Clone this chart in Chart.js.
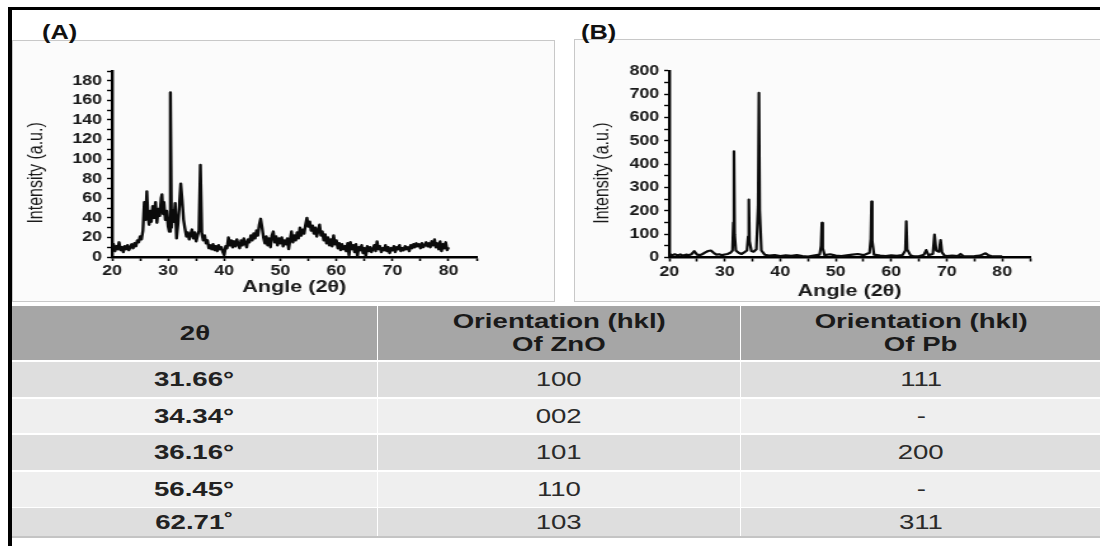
<!DOCTYPE html>
<html><head><meta charset="utf-8">
<script src="https://cdn.jsdelivr.net/npm/chart.js@4/dist/chart.umd.min.js"></script>
<style>
html,body{margin:0;padding:0;background:#fff;}
body{width:1100px;height:546px;position:relative;overflow:hidden;font-family:"Liberation Sans",Arial,sans-serif;}
.frameTop{position:absolute;left:8px;top:7px;width:1092px;height:3px;background:#000;}
.frameLeft{position:absolute;left:8px;top:7px;width:4px;height:539px;background:#000;}
.panel{position:absolute;border:1px solid #c8c8c8;background:#fbfbfb;box-sizing:border-box;}
.plabel{position:absolute;font-weight:bold;font-size:20px;line-height:20px;color:#111;transform:scaleX(1.27);transform-origin:0 0;}
.cwrap{position:absolute;transform:scaleX(1.27);transform-origin:0 0;}
.cell{position:absolute;display:flex;align-items:center;justify-content:center;flex-direction:column;}
.cell span{display:inline-block;transform:scaleX(1.38);font-size:20px;line-height:23px;color:#2a2a2a;white-space:nowrap;}
.hdr{background:#a6a6a6;}
.hdr span{font-weight:bold;color:#1a1a1a;}
.odd{background:#dedede;}
.even{background:#efefef;}
.b span{font-weight:bold;color:#222;}
</style></head>
<body>
<div class="frameTop"></div>
<div class="frameLeft"></div>
<div class="panel" style="left:12px;top:40px;width:543px;height:262px;"></div>
<div class="panel" style="left:574px;top:39px;width:530px;height:263px;"></div>
<div class="plabel" style="left:42px;top:22px;">(A)</div>
<div class="plabel" style="left:581px;top:22px;">(B)</div>
<div class="cwrap" style="left:13px;top:41px;"><canvas id="cA" width="425" height="260"></canvas></div>
<div class="cwrap" style="left:574px;top:40px;"><canvas id="cB" width="414" height="262"></canvas></div>
<div id="table"></div>
<div style="position:absolute;left:12px;top:536px;width:1088px;height:2px;background:#c4c4c4;"></div>
<script>
// ---------- Data: panel (A) ----------
const angleA = [
20.00,20.25,20.50,20.75,21.00,21.25,21.50,21.75,22.00,22.25,22.50,22.75,23.00,23.25,23.50,23.75,
24.00,24.25,24.50,24.75,25.00,25.25,25.50,25.75,26.00,26.20,26.40,26.60,26.80,27.00,27.25,27.50,27.75,
28.00,28.25,28.50,28.75,28.90,29.10,29.25,29.50,29.75,30.00,30.20,30.40,30.60,30.80,31.00,31.25,31.50,31.75,
32.00,32.25,32.50,32.75,33.00,33.25,33.50,33.75,34.00,34.25,34.50,34.75,35.00,35.25,35.50,35.75,36.00,
36.25,36.50,36.75,37.00,37.25,37.50,37.75,38.00,38.25,38.50,38.75,39.00,39.25,39.50,39.75,
40.00,40.25,40.50,40.75,41.00,41.25,41.50,41.75,42.00,42.25,42.50,42.75,43.00,43.25,43.50,43.75,
44.00,44.25,44.50,44.75,45.00,45.25,45.50,45.75,46.00,46.25,46.50,46.75,47.00,47.25,47.50,47.75,
48.00,48.25,48.50,48.75,49.00,49.25,49.50,49.75,50.00,50.25,50.50,50.75,51.00,51.25,51.50,51.75,
52.00,52.25,52.50,52.75,53.00,53.25,53.50,53.75,54.00,54.25,54.50,54.75,55.00,55.25,55.50,55.75,
56.00,56.25,56.50,56.75,57.00,57.25,57.50,57.75,58.00,58.25,58.50,58.75,59.00,59.25,59.50,59.75,
60.00,60.25,60.50,60.75,61.00,61.25,61.50,61.75,62.00,62.25,62.50,62.75,63.00,63.25,63.50,63.75,
64.00,64.25,64.50,64.75,65.00,65.25,65.50,65.75,66.00,66.25,66.50,66.75,67.00,67.25,67.50,67.75,
68.00,68.25,68.50,68.75,69.00,69.25,69.50,69.75,70.00,70.25,70.50,70.75,71.00,71.25,71.50,71.75,
72.00,72.25,72.50,72.75,73.00,73.25,73.50,73.75,74.00,74.25,74.50,74.75,75.00,75.25,75.50,75.75,
76.00,76.25,76.50,76.75,77.00,77.25,77.50,77.75,78.00,78.25,78.50,78.75,79.00,79.25,79.50,79.75,80.00
];
const intensityA = [
9,13,6,11,8,15,7,10,5,11,8,12,7,10,13,9,
14,11,17,15,21,18,27,56,38,67,42,33,47,36,52,40,56,
35,49,42,60,64,44,56,38,47,31,26,168,30,48,36,55,19,34,
52,75,58,38,29,21,25,18,23,28,19,25,16,22,27,94,24,
17,22,14,17,9,12,8,13,7,11,6,12,8,10,5,
2,11,9,20,12,17,10,16,11,18,13,9,17,12,19,14,
10,18,15,22,17,24,19,27,22,33,39,30,20,14,21,12,
19,10,22,26,15,21,12,19,14,20,11,17,13,19,8,18,
26,15,22,17,25,19,30,22,28,24,33,40,31,36,27,32,
24,30,21,27,33,22,26,17,23,14,20,12,18,11,22,13,
17,9,14,7,13,8,11,6,14,2,15,8,12,5,13,1,
10,7,12,4,9,1,11,6,10,5,8,12,6,16,8,11,
5,9,7,12,6,10,4,9,7,11,5,10,8,12,6,9,
7,11,8,10,6,12,9,13,10,14,11,13,9,14,10,12,
15,11,14,10,16,12,18,10,14,8,16,6,13,9,15,7,10
];
// ---------- Data: panel (B) ----------
const angleB = [
20,20.5,21,21.5,22,22.5,23,23.5,24,24.5,25,25.5,26,26.5,27,27.5,28,28.5,29,29.5,30,30.5,31,31.4,31.55,31.66,31.78,32.0,32.5,
33,33.5,34.0,34.22,34.34,34.46,34.8,35.2,35.7,36.02,36.16,36.3,36.6,37.2,38,39,40,41,42,43,44,45,46,47.1,47.35,47.5,47.65,48.0,
49,50,51,52,53,54,55,56.1,56.32,56.45,56.58,56.9,58,59,60,61,62,62.55,62.71,62.87,63.5,64,65,65.9,66.3,66.7,67.5,67.8,68.1,68.6,
68.9,69.15,69.6,70,71,72,72.5,73,74,75,76,77,77.5,78,79,80
];
const intensityB = [
15,10,14,9,13,8,12,10,14,27,12,10,15,22,28,30,20,12,14,10,13,15,20,30,150,455,100,30,20,
15,22,30,90,248,70,28,25,35,220,705,200,30,12,8,10,6,9,7,10,6,4,8,12,50,148,40,10,
14,8,6,9,12,15,10,20,80,240,70,12,8,6,9,7,10,30,155,35,8,6,5,12,32,10,15,98,30,25,
75,22,8,6,8,6,15,6,5,6,8,18,10,6,5,5
];
// ---------- Data: table ----------
const tableHeaders = [["2θ"], ["Orientation (hkl)", "Of ZnO"], ["Orientation (hkl)", "Of Pb"]];
const twoTheta = ["31.66°", "34.34°", "36.16°", "56.45°", "62.71˚"];
const hklZnO = ["100", "002", "101", "110", "103"];
const hklPb = ["111", "-", "200", "-", "311"];

// ---------- Charts ----------
const FONT = '"Liberation Sans", Arial, sans-serif';
const Y_TITLE = 'Intensity (a.u.)\u00a0\u00a0\u00a0\u00a0';
function pairs(xs, ys){ return xs.map((x,i)=>({x:x, y:ys[i]})); }

function makeChart(id, xs, ys, cfg){
  return new Chart(document.getElementById(id), {
    type: 'line',
    data: { datasets: [{ data: pairs(xs, ys), borderColor: '#0b0b0b', borderWidth: cfg.lw,
      pointRadius: 0, tension: 0, borderJoinStyle: 'round', fill: false }] },
    options: {
      responsive: false, animation: false,
      layout: { padding: { left: 0, right: cfg.padR, top: cfg.padT, bottom: 0 } },
      plugins: { legend: { display: false }, tooltip: { enabled: false } },
      scales: {
        x: {
          type: 'linear', min: 20, max: 85,
          border: { display: true, color: '#000', width: 2.4 },
          grid: { drawOnChartArea: false, drawTicks: true, tickLength: 4, tickColor: '#000', tickWidth: 1.6 },
          ticks: { stepSize: 5, autoSkip: false, maxRotation: 0, padding: 2, color: '#1a1a1a',
            font: { family: FONT, weight: 'bold', size: 14 },
            callback: v => (v % 10 === 0 && v <= 80) ? String(v) : '' },
          title: { display: true, text: 'Angle (2θ)', color: '#1a1a1a',
            font: { family: FONT, weight: 'bold', size: 17 }, padding: { top: 0, bottom: cfg.xtPad } },
          afterFit: s => { s.height = cfg.xH; }
        },
        y: {
          type: 'linear', min: 0, max: cfg.ymax,
          border: { display: true, color: '#000', width: 2.4 },
          grid: { drawOnChartArea: false, drawTicks: true, tickLength: 4, tickColor: '#000', tickWidth: 1.4 },
          ticks: { stepSize: cfg.ystep, autoSkip: false, padding: 4, color: '#1a1a1a',
            font: { family: FONT, weight: 'bold', size: 14 },
            callback: v => (v % cfg.ylab === 0) ? String(v) : '' },
          title: { display: true, text: Y_TITLE, color: '#1a1a1a',
            font: { family: FONT, weight: 'normal', size: 16 }, padding: { top: cfg.ytPad, bottom: 0 } },
          afterFit: s => { s.width = cfg.yW; }
        }
      }
    }
  });
}

makeChart('cA', angleA, intensityA, { lw: 2.4, padR: 60, padT: 30, xH: 44, xtPad: 3, ymax: 190, ystep: 10, ylab: 20, yW: 78, ytPad: 9 });
makeChart('cB', angleB, intensityB, { lw: 2.2, padR: 55, padT: 30.8, xH: 44.5, xtPad: 0, ymax: 800, ystep: 50, ylab: 100, yW: 75, ytPad: 13 });

// ---------- Table ----------
const tbl = document.getElementById('table');
const cols = [[12, 365], [378, 362], [741, 360]];
const rows = [[306, 54], [362, 35], [399, 34], [435, 35], [472, 35], [508, 28]];
function addCell(x, y, w, h, cls, lines){
  const d = document.createElement('div');
  d.className = 'cell ' + cls;
  d.style.left = x + 'px'; d.style.top = y + 'px'; d.style.width = w + 'px'; d.style.height = h + 'px';
  lines.forEach(t => { const s = document.createElement('span'); s.textContent = t; d.appendChild(s); });
  tbl.appendChild(d);
}
tableHeaders.forEach((h, c) => addCell(cols[c][0], rows[0][0], cols[c][1], rows[0][1], 'hdr', h));
twoTheta.forEach((t, r) => {
  const cls = (r % 2 === 0) ? 'odd' : 'even';
  const [y, h] = rows[r + 1];
  addCell(cols[0][0], y, cols[0][1], h, cls + ' b', [t]);
  addCell(cols[1][0], y, cols[1][1], h, cls, [hklZnO[r]]);
  addCell(cols[2][0], y, cols[2][1], h, cls, [hklPb[r]]);
});
</script>
</body></html>
